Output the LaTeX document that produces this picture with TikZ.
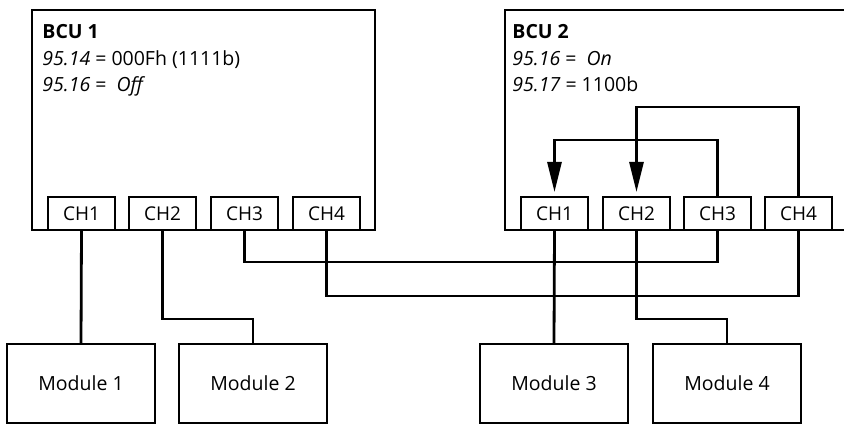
\documentclass[tikz,border=0pt]{standalone}
\usepackage{fontspec}
\setmainfont{Open Sans}
\usetikzlibrary{arrows.meta}
\begin{document}
\begin{tikzpicture}[x=1pt,y=-1pt,
  line width=2.8pt, line join=miter,
  box/.style={draw, line width=2.8pt, outer sep=0pt, inner sep=0pt, anchor=north west},
  chbox/.style={box, minimum width=67pt, minimum height=33pt, font=\fontsize{19}{22}\selectfont},
  modbox/.style={box, minimum width=148pt, minimum height=79pt, font=\fontsize{19.5}{22}\selectfont},
  bcubox/.style={box, minimum width=343pt, minimum height=220pt},
  txt/.style={anchor=base west, inner sep=0pt, font=\fontsize{19.5}{22}\selectfont},
  wire/.style={draw, line width=2.8pt},
  arr/.style={wire, -{Triangle[length=30pt,width=14pt]}, shorten >=5pt}
]
\useasboundingbox (0,0) rectangle (844,425);
% BCU boxes
\node[bcubox] (bcu1) at (32,10) {};
\node[bcubox] (bcu2) at (505,10) {};
% Channel boxes BCU 1
\node[chbox] (a1) at (48,197) {CH1};
\node[chbox] (a2) at (129,197) {CH2};
\node[chbox] (a3) at (211,197) {CH3};
\node[chbox] (a4) at (293,197) {CH4};
% Channel boxes BCU 2
\node[chbox] (b1) at (521,197) {CH1};
\node[chbox] (b2) at (603,197) {CH2};
\node[chbox] (b3) at (684,197) {CH3};
\node[chbox] (b4) at (765,197) {CH4};
% Modules
\node[modbox] (m1) at (7,344) {Module 1};
\node[modbox] (m2) at (179,344) {Module 2};
\node[modbox] (m3) at (480,344) {Module 3};
\node[modbox] (m4) at (653,344) {Module 4};
% Texts
\node[txt] (t1) at (41,39) {\textbf{BCU 1}};
\node[txt] (t2) at (41,66) {\textit{95.14} = 000Fh (1111b)};
\node[txt] (t3) at (41,92) {\textit{95.16} = \ \textit{Off}};
\node[txt] (u1) at (511,39) {\textbf{BCU 2}};
\node[txt] (u2) at (511,66) {\textit{95.16} = \ \textit{On}};
\node[txt] (u3) at (511,92) {\textit{95.17} = 1100b};
% Wires
\draw[wire] (a1.south) -- (m1.north);
\draw[wire] (a2.south) -- ++(0,89) -| (m2.north);
\draw[wire] (a3.south) -- ++(0,32) -| (b3.south);
\draw[wire] (a4.south) -- ++(0,66) -| (b4.south);
\draw[wire] (b1.south) -- (m3.north);
\draw[wire] (b2.south) -- ++(0,89) -| (m4.north);
% Internal loops BCU 2
\draw[arr] (b3.north) -- ++(0,-57) -| (b1.north);
\draw[arr] (b4.north) -- ++(0,-90) -| (b2.north);
\end{tikzpicture}
\end{document}
